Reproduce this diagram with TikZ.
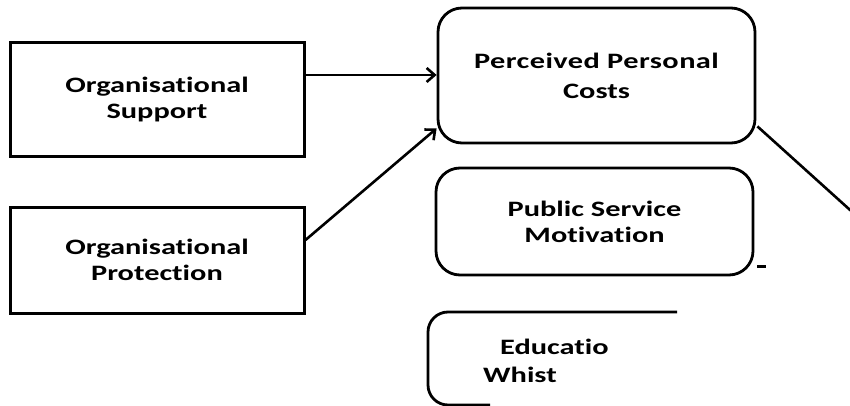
\documentclass[tikz,border=0pt]{standalone}
\usepackage{fontspec}
\setmainfont{Carlito}[FakeStretch=1.38, Ligatures={NoCommon}]
\usetikzlibrary{arrows.meta}
\begin{document}
\begin{tikzpicture}[x=1pt,y=-1pt,
  every node/.style={font=\bfseries\fontsize{22}{26}\selectfont, align=center, inner sep=0pt},
  sqbox/.style={draw, line width=3pt, minimum width=294pt, minimum height=112pt},
  rbox/.style={draw, line width=2.8pt, rounded corners=24pt},
  link/.style={line width=2.6pt},
  arr/.style={link, -{Straight Barb[length=8pt,width=14pt,line width=2.6pt]}}
]
\useasboundingbox (0,0) rectangle (850,406);

% antecedents
\node[sqbox, minimum height=114pt] (sup) at (157,100) {Organisational\\Support};
\node[sqbox, minimum height=106pt] (pro) at (157,260) {Organisational\\Protection};

% central construct
\node[rbox, minimum width=317pt, minimum height=135pt] (ppc) at (596.5,75.5)
  {\addfontfeatures{LetterSpace=2}Perceived Personal\\[4pt]Costs};

% moderator
\node[rbox, minimum width=317pt, minimum height=107pt] (psm) at (594.5,221.5)
  {Public Service\\Motivation};
\draw[line width=2.4pt] ([xshift=3pt,yshift=10pt]psm.south east) -- ++(9,0);

% partly covered box
\coordinate (edtop) at (677,312);
\coordinate (edbot) at (490,405);
\draw[line width=2.8pt, rounded corners=20pt] (edtop) -- (428,312) -- (428,405) -- (edbot);
\node[anchor=west] (edu) at (500,347) {Educatio};
\node[anchor=west] (whi) at (483,375) {Whist};

% connectors
\draw[arr] (sup.east |- 0,75) -- (ppc.west |- 0,75);
\draw[arr] ([yshift=20pt]pro.east) -- ([yshift=16pt]ppc.south west);
\coordinate (out) at (880,237);
\draw[link] ([xshift=1pt,yshift=18pt]ppc.south east) -- (out);
\end{tikzpicture}
\end{document}
